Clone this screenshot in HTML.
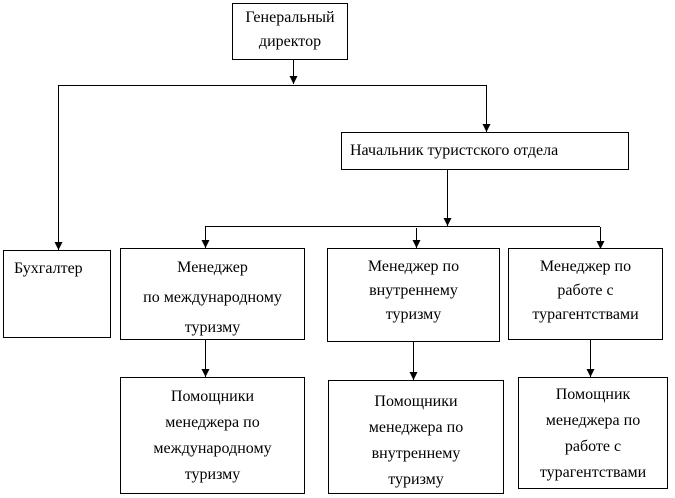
<!DOCTYPE html>
<html><head><meta charset="utf-8"><style>
html,body{margin:0;padding:0;background:#fff;}
body{width:675px;height:498px;position:relative;overflow:hidden;font-family:"Liberation Serif","Times New Roman",serif;font-size:16px;color:#000;}
.b{position:absolute;border:1px solid #000;box-sizing:border-box;text-align:center;line-height:24px;}
svg{position:absolute;left:0;top:0;}
</style></head><body>
<svg width="675" height="498">
<defs><marker id="a" markerWidth="8" markerHeight="8" refX="8" refY="4" orient="auto" markerUnits="userSpaceOnUse"><path d="M0,0 L8,4 L0,8 z" fill="#000"/></marker></defs>
<g stroke="#000" stroke-width="1" fill="none">
<line x1="293.5" y1="60" x2="293.5" y2="84" marker-end="url(#a)"/>
<line x1="58" y1="85.5" x2="486" y2="85.5"/>
<line x1="58.5" y1="85" x2="58.5" y2="250" marker-end="url(#a)"/>
<line x1="486.5" y1="85" x2="486.5" y2="132" marker-end="url(#a)"/>
<line x1="447.5" y1="169" x2="447.5" y2="226" marker-end="url(#a)"/>
<line x1="205" y1="226.5" x2="600" y2="226.5"/>
<line x1="205.5" y1="227" x2="205.5" y2="248" marker-end="url(#a)"/>
<line x1="416.5" y1="228" x2="416.5" y2="248" marker-end="url(#a)"/>
<line x1="600.5" y1="227" x2="600.5" y2="249" marker-end="url(#a)"/>
<line x1="205.5" y1="340" x2="205.5" y2="377" marker-end="url(#a)"/>
<line x1="413.5" y1="342" x2="413.5" y2="380" marker-end="url(#a)"/>
<line x1="590.5" y1="340" x2="590.5" y2="377" marker-end="url(#a)"/>
</g></svg>
<div class="b" style="left:232px;top:3px;width:116px;height:57px;padding-top:2px;">Генеральный<br>директор</div>
<div class="b" style="left:341px;top:132px;width:288px;height:38px;text-align:left;padding:6px 0 0 8px;">Начальник туристского отдела</div>
<div class="b" style="left:3px;top:250px;width:108px;height:88px;text-align:left;padding:6px 0 0 10px;">Бухгалтер</div>
<div class="b" style="left:120px;top:248px;width:185px;height:92px;padding-top:4px;line-height:30px;">Менеджер<br>по международному<br>туризму</div>
<div class="b" style="left:327px;top:248px;width:173px;height:94px;padding-top:6px;">Менеджер по<br>внутреннему<br>туризму</div>
<div class="b" style="left:508px;top:248px;width:155px;height:92px;padding-top:6px;">Менеджер по<br>работе с<br>турагентствами</div>
<div class="b" style="left:120px;top:377px;width:185px;height:117px;padding-top:6px;line-height:26px;">Помощники<br>менеджера по<br>международному<br>туризму</div>
<div class="b" style="left:328px;top:380px;width:176px;height:114px;padding-top:8px;line-height:26px;">Помощники<br>менеджера по<br>внутреннему<br>туризму</div>
<div class="b" style="left:518px;top:377px;width:150px;height:112px;padding-top:4px;line-height:26px;">Помощник<br>менеджера по<br>работе с<br>турагентствами</div>
</body></html>
